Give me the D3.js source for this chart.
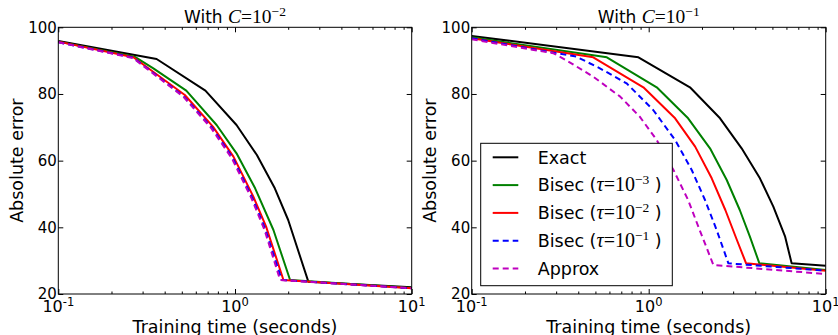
<!DOCTYPE html>
<html>
<head>
<meta charset="utf-8">
<script src="https://cdn.jsdelivr.net/npm/d3@7"></script>
<style>
  body { margin: 0; background: #fff; }
  svg { display: block; }
</style>
</head>
<body>
<div id="chart"></div>
<script>
// series: [training time (s), absolute error]
const leftExact  = [[0.1, 95.9], [0.36, 90.5], [0.68, 81.0], [1.02, 70.7], [1.33, 61.7], [1.68, 51.7], [2.0, 42.2], [2.6, 23.7], [10, 22.0]];
const leftBisec3 = [[0.1, 95.7], [0.27, 91.2], [0.345, 87.7], [0.53, 81.0], [0.787, 70.7], [1.02, 62.2], [1.30, 51.7], [1.65, 39.2], [2.05, 24.2], [10, 21.8]];
const leftBisec2 = [[0.1, 95.7], [0.266, 91.0], [0.52, 79.7], [0.75, 70.2], [0.98, 61.2], [1.27, 49.2], [1.5, 40.2], [1.88, 24.2], [10, 21.7]];
const leftBisec1 = [[0.1, 95.5], [0.265, 90.9], [0.51, 79.4], [0.74, 69.9], [0.97, 60.9], [1.25, 48.9], [1.48, 39.6], [1.84, 24.2], [10, 21.7]];
const leftApprox = [[0.1, 95.5], [0.264, 90.8], [0.51, 79.2], [0.735, 69.7], [0.96, 60.7], [1.24, 48.7], [1.47, 39.2], [1.8, 24.2], [10, 21.7]];

const rightExact  = [[0.1, 97.4], [0.875, 91.0], [1.71, 82.0], [2.53, 72.7], [3.35, 63.7], [4.25, 54.7], [5.06, 46.2], [5.9, 37.2], [6.42, 29.2], [10, 28.5]];
const rightBisec3 = [[0.1, 97.0], [0.58, 91.0], [1.11, 82.0], [1.67, 72.7], [2.22, 63.7], [2.76, 54.2], [3.27, 45.2], [3.73, 37.2], [4.22, 29.2], [10, 27.2]];
const rightBisec2 = [[0.1, 96.7], [0.486, 91.0], [0.933, 82.0], [1.41, 72.7], [1.83, 64.2], [2.27, 54.7], [2.71, 45.2], [3.15, 36.2], [3.55, 29.2], [10, 27.0]];
const rightBisec1 = [[0.1, 96.7], [0.39, 91.2], [0.53, 87.7], [0.75, 83.2], [1.06, 75.2], [1.41, 66.2], [1.75, 57.2], [2.08, 48.2], [2.42, 39.2], [2.82, 29.2], [10, 27.0]];
const rightApprox = [[0.1, 96.4], [0.29, 92.2], [0.34, 90.2], [0.486, 85.2], [0.69, 79.2], [0.89, 73.2], [1.11, 66.2], [1.38, 57.2], [1.67, 48.2], [1.94, 39.2], [2.32, 28.7], [10, 26.0]];

const seriesNames = ["Exact", "Bisec", "Bisec", "Bisec", "Approx"];
const seriesTau = [null, "\u22123", "\u22122", "\u22121", null];
const seriesColors = ["#000000", "#008000", "#ff0000", "#0000ff", "#bf00bf"];
const seriesDashed = [false, false, false, true, true];

const panelExponents = ["\u22122", "\u22121"];
const yTicks = [20, 40, 60, 80, 100];
const xMajor = [0.1, 1, 10];
const xMajorExp = ["-1", "0", "1"];
const xMinor = [0.2, 0.3, 0.4, 0.5, 0.6, 0.7, 0.8, 0.9, 2, 3, 4, 5, 6, 7, 8, 9];

const panels = [
  { left: 58.3, right: 411.7, exp: panelExponents[0], data: [leftExact, leftBisec3, leftBisec2, leftBisec1, leftApprox], legend: false },
  { left: 471.7, right: 825.7, exp: panelExponents[1], data: [rightExact, rightBisec3, rightBisec2, rightBisec1, rightApprox], legend: true }
];
const plotTop = 27.3, plotBottom = 294;
const sans = "'DejaVu Sans', sans-serif";
const serif = "'Liberation Serif', 'DejaVu Serif', serif";

const svg = d3.select("#chart").append("svg")
  .attr("width", 838).attr("height", 335)
  .style("font-family", sans);

panels.forEach((p, pi) => {
  const x = d3.scaleLog().domain([0.1, 10]).range([p.left, p.right]);
  const y = d3.scaleLinear().domain([20, 100]).range([plotBottom, plotTop]);

  const clipId = "clip" + pi;
  svg.append("clipPath").attr("id", clipId).append("rect")
    .attr("x", p.left).attr("y", plotTop).attr("width", p.right - p.left).attr("height", plotBottom - plotTop);

  // lines
  const line = d3.line().x(d => x(d[0])).y(d => y(d[1]));
  const g = svg.append("g").attr("clip-path", "url(#" + clipId + ")");
  p.data.forEach((s, i) => {
    g.append("path").datum(s)
      .attr("d", line)
      .attr("fill", "none")
      .attr("stroke", seriesColors[i])
      .attr("stroke-width", 2)
      .attr("stroke-linejoin", "round")
      .attr("stroke-dasharray", seriesDashed[i] ? "6,4" : null);
  });

  // ticks (inward) on all four sides
  const tickAxis = (gen, tx, ty) => {
    const a = svg.append("g").attr("transform", `translate(${tx},${ty})`).call(gen);
    a.select(".domain").remove();
    a.selectAll("line").attr("stroke", "#000").attr("stroke-width", 1);
    a.selectAll("text").remove();
  };
  tickAxis(d3.axisBottom(x).tickValues(xMajor).tickSize(-5).tickFormat(""), 0, plotBottom);
  tickAxis(d3.axisBottom(x).tickValues(xMinor).tickSize(-2.5).tickFormat(""), 0, plotBottom);
  tickAxis(d3.axisTop(x).tickValues(xMajor).tickSize(-5).tickFormat(""), 0, plotTop);
  tickAxis(d3.axisTop(x).tickValues(xMinor).tickSize(-2.5).tickFormat(""), 0, plotTop);
  tickAxis(d3.axisLeft(y).tickValues(yTicks).tickSize(-5).tickFormat(""), p.left, 0);
  tickAxis(d3.axisRight(y).tickValues(yTicks).tickSize(-5).tickFormat(""), p.right, 0);

  // frame
  svg.append("rect")
    .attr("x", p.left).attr("y", plotTop)
    .attr("width", p.right - p.left).attr("height", plotBottom - plotTop)
    .attr("fill", "none").attr("stroke", "#000").attr("stroke-width", 1);

  // y tick labels
  svg.append("g").selectAll("text").data(yTicks).join("text")
    .attr("x", p.left - 1.5).attr("y", d => y(d) + 5.4)
    .attr("text-anchor", "end")
    .attr("font-size", 15)
    .text(d => d);

  // x tick labels 10^k
  xMajor.forEach((v, k) => {
    const t = svg.append("text")
      .attr("x", x(v)).attr("y", 312)
      .attr("text-anchor", "middle")
      .attr("font-size", 16);
    t.append("tspan").text("10");
    t.append("tspan").attr("font-size", 11.5).attr("dy", -6.5).text(xMajorExp[k]);
  });

  // axis labels
  svg.append("text")
    .attr("x", (p.left + p.right) / 2).attr("y", 333)
    .attr("text-anchor", "middle").attr("font-size", 17.5)
    .text("Training time (seconds)");
  svg.append("text")
    .attr("transform", `translate(${p.left - 35.5},${(plotTop + plotBottom) / 2}) rotate(-90)`)
    .attr("text-anchor", "middle").attr("font-size", 17.5)
    .text("Absolute error");

  // title
  const title = svg.append("text")
    .attr("x", (p.left + p.right) / 2).attr("y", 23)
    .attr("text-anchor", "middle").attr("font-size", 17);
  title.append("tspan").text("With ");
  title.append("tspan").attr("font-family", serif).attr("font-style", "italic").attr("font-size", 19.5).text("C");
  title.append("tspan").attr("font-family", serif).attr("font-size", 19.5).text("=10");
  title.append("tspan").attr("font-family", serif).attr("font-size", 13.5).attr("dy", -7).text(p.exp);

  // legend
  if (p.legend) {
    const lx = 480.7, ly = 143.3;
    svg.append("rect")
      .attr("x", lx).attr("y", ly).attr("width", 191.6).attr("height", 142.4)
      .attr("fill", "#fff").attr("stroke", "#000").attr("stroke-width", 1);
    const rowY = d3.scaleLinear().domain([0, 4]).range([157.3, 268.5]);
    seriesNames.forEach((name, i) => {
      const ry = rowY(i);
      svg.append("line")
        .attr("x1", 492.7).attr("x2", 518.3).attr("y1", ry).attr("y2", ry)
        .attr("stroke", seriesColors[i]).attr("stroke-width", 2)
        .attr("stroke-dasharray", seriesDashed[i] ? "6,4" : null);
      const t = svg.append("text")
        .attr("x", 537.7).attr("y", ry + 6.3)
        .attr("font-size", 17.5);
      if (seriesTau[i] === null) {
        t.text(name);
      } else {
        t.append("tspan").text(name + " (");
        t.append("tspan").attr("font-family", serif).attr("font-style", "italic").attr("font-size", 20).text("\u03c4");
        t.append("tspan").attr("font-family", serif).attr("font-size", 20).text("=10");
        t.append("tspan").attr("font-family", serif).attr("font-size", 13.5).attr("dy", -7).text(seriesTau[i]);
        t.append("tspan").attr("dy", 7).text(" )");
      }
    });
  }
});
</script>
</body>
</html>
